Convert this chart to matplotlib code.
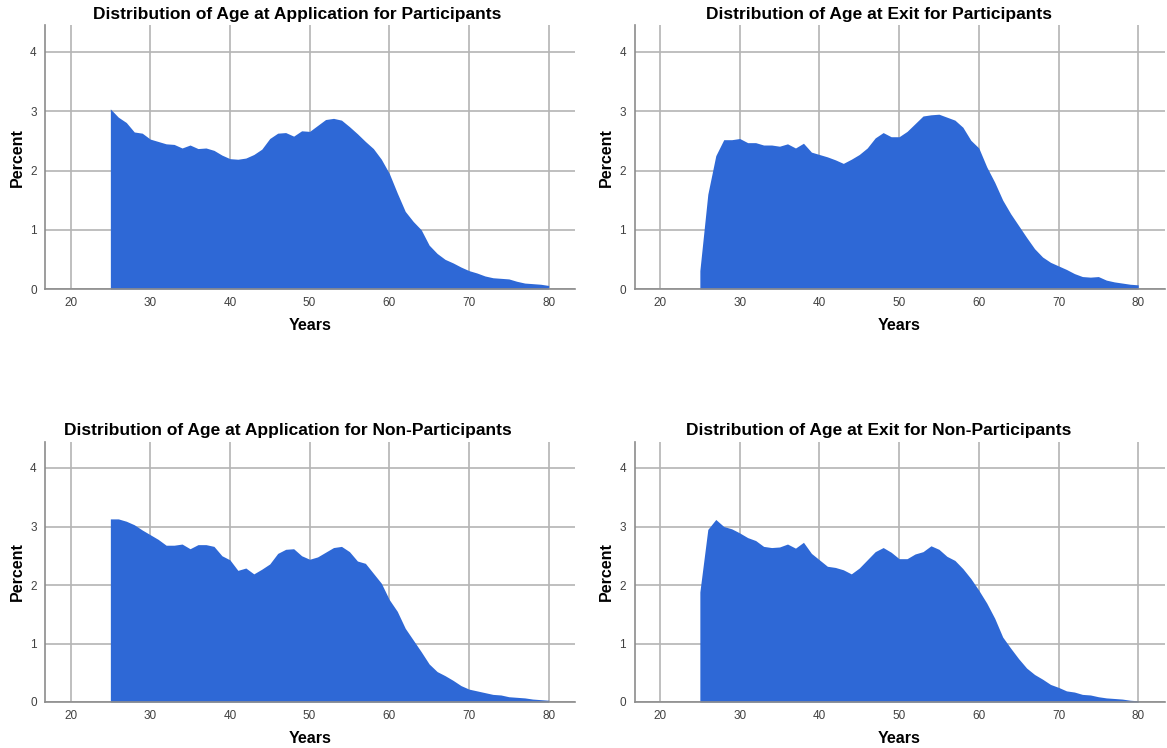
import matplotlib
matplotlib.use("Agg")
import matplotlib.pyplot as plt
import numpy as np

ages = list(range(25, 81))

app_participants = [3.04, 2.90, 2.81, 2.65, 2.63, 2.53, 2.49, 2.45, 2.44, 2.38,
                    2.43, 2.37, 2.38, 2.34, 2.26, 2.20, 2.19, 2.21, 2.27, 2.36,
                    2.54, 2.63, 2.64, 2.58, 2.67, 2.66, 2.76, 2.86, 2.88, 2.85,
                    2.74, 2.62, 2.49, 2.37, 2.19, 1.95, 1.62, 1.31, 1.14, 1.00,
                    0.74, 0.60, 0.50, 0.44, 0.37, 0.31, 0.27, 0.22, 0.19, 0.18,
                    0.17, 0.13, 0.10, 0.09, 0.08, 0.06]

exit_participants = [0.31, 1.60, 2.25, 2.52, 2.52, 2.54, 2.47, 2.47, 2.43, 2.43,
                     2.41, 2.45, 2.38, 2.46, 2.31, 2.27, 2.23, 2.18, 2.12, 2.19,
                     2.27, 2.38, 2.55, 2.64, 2.57, 2.57, 2.66, 2.79, 2.92, 2.94,
                     2.95, 2.90, 2.85, 2.73, 2.51, 2.38, 2.06, 1.80, 1.50, 1.27,
                     1.07, 0.87, 0.68, 0.54, 0.45, 0.39, 0.33, 0.26, 0.21, 0.20,
                     0.21, 0.15, 0.12, 0.10, 0.08, 0.07]

app_nonparticipants = [3.13, 3.13, 3.09, 3.03, 2.94, 2.86, 2.78, 2.68, 2.68, 2.70,
                       2.62, 2.69, 2.69, 2.66, 2.50, 2.43, 2.25, 2.29, 2.19, 2.27,
                       2.36, 2.54, 2.61, 2.62, 2.50, 2.44, 2.48, 2.56, 2.64, 2.66,
                       2.57, 2.41, 2.37, 2.20, 2.03, 1.75, 1.55, 1.26, 1.06, 0.86,
                       0.65, 0.52, 0.45, 0.37, 0.28, 0.22, 0.19, 0.16, 0.13, 0.12,
                       0.09, 0.08, 0.07, 0.05, 0.04, 0.03]

exit_nonparticipants = [1.88, 2.95, 3.12, 3.00, 2.96, 2.89, 2.81, 2.76, 2.66, 2.64,
                        2.65, 2.70, 2.63, 2.73, 2.54, 2.43, 2.32, 2.30, 2.26, 2.19,
                        2.29, 2.43, 2.57, 2.64, 2.56, 2.45, 2.45, 2.53, 2.57, 2.67,
                        2.61, 2.49, 2.42, 2.28, 2.11, 1.91, 1.69, 1.43, 1.11, 0.92,
                        0.74, 0.58, 0.47, 0.39, 0.30, 0.25, 0.19, 0.17, 0.13, 0.12,
                        0.09, 0.07, 0.06, 0.05, 0.03, 0.02]

titles = ["Distribution of Age at Application for Participants",
          "Distribution of Age at Exit for Participants",
          "Distribution of Age at Application for Non-Participants",
          "Distribution of Age at Exit for Non-Participants"]
series = [app_participants, exit_participants, app_nonparticipants, exit_nonparticipants]

x_ticks = [20, 30, 40, 50, 60, 70, 80]
y_ticks = [0, 1, 2, 3, 4]

plt.rcParams['font.family'] = ['Liberation Sans', 'DejaVu Sans']

W, H = 1167, 748
fig = plt.figure(figsize=(W / 100, H / 100), dpi=100)

fill_color = '#2e68d6'
grid_color = '#b4b4b4'
spine_color = '#8c8c8c'

xlim = (16.8, 83.3)
# (left px, bottom-zero px, px per unit y, title center px x, title y px)
panels = [
    (45, 289, 59.25, 297, 14),
    (634.5, 289, 59.25, 879, 14),
    (45, 702, 58.5, 288, 430),
    (634.5, 702, 58.5, 879, 430),
]
px_per_year = 7.97
ytop = 4.45

for (left, zero_y, ppu, tcx, ty), title, vals in zip(panels, titles, series):
    width_px = (xlim[1] - xlim[0]) * px_per_year
    height_px = ytop * ppu
    ax = fig.add_axes([left / W, (H - zero_y) / H, width_px / W, height_px / H])
    ax.set_xlim(*xlim)
    ax.set_ylim(0, ytop)
    ax.set_axisbelow(True)
    ax.grid(True, color=grid_color, linewidth=1.2)
    ax.fill_between(ages, vals, 0, color=fill_color, linewidth=0, zorder=2)
    ax.set_xticks(x_ticks)
    ax.set_yticks(y_ticks)
    ax.tick_params(length=0, labelsize=8.5, labelcolor='#404040', pad=6)
    for s in ['top', 'right']:
        ax.spines[s].set_visible(False)
    for s in ['left', 'bottom']:
        ax.spines[s].set_color(spine_color)
        ax.spines[s].set_linewidth(1.2)
    ax.set_xlabel('Years', fontsize=11.5, fontweight='bold', labelpad=6.5)
    ax.set_ylabel('Percent', fontsize=11.5, fontweight='bold', labelpad=4)
    fig.text(tcx / W, 1 - ty / H, title, ha='center', va='center',
             fontsize=12.5, fontweight='bold')

fig.savefig('out.png', dpi=100)
